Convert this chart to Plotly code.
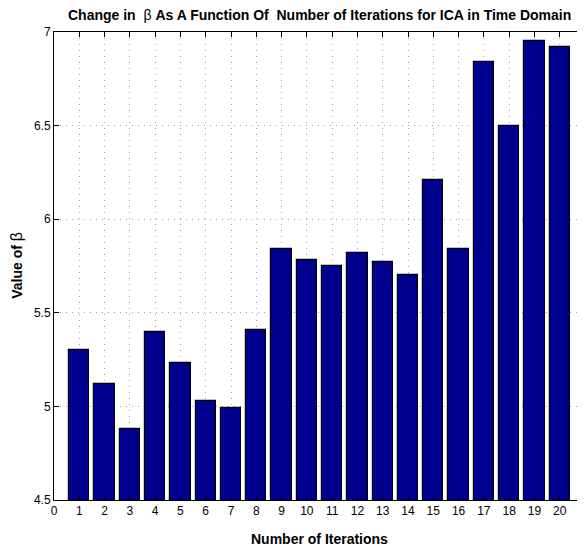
import plotly.graph_objects as go

iterations = list(range(1, 21))
beta_values = [5.30, 5.12, 4.88, 5.40, 5.23, 5.03, 4.99, 5.41, 5.84, 5.78,
               5.75, 5.82, 5.77, 5.70, 6.21, 5.84, 6.84, 6.50, 6.95, 6.92]
x_ticks = list(range(0, 21))
y_ticks = [4.5, 5, 5.5, 6, 6.5, 7]
y_tick_labels = ["4.5", "5", "5.5", "6", "6.5", "7"]

font_family = "Liberation Sans, Arial, Helvetica, sans-serif"

fig = go.Figure()
fig.add_trace(go.Bar(
    x=iterations, y=beta_values, width=0.8,
    marker=dict(color="rgb(0,0,143)", line=dict(color="black", width=1.2)),
))

# page body has an 8px margin, so the figure is sized/offset to compensate
fig.update_layout(
    width=577, height=538,
    margin=dict(l=46, r=0, t=24, b=46),
    paper_bgcolor="white", plot_bgcolor="white",
    showlegend=False,
    font=dict(family=font_family, size=12, color="black"),
    bargap=0,
)
grid_style = dict(showgrid=True, gridcolor="#a0a0a0", griddash="1px,5px", gridwidth=1)
fig.update_xaxes(
    range=[0, 21], tickmode="array", tickvals=x_ticks,
    ticktext=[str(v) for v in x_ticks],
    showline=True, linecolor="black", linewidth=1, mirror="ticks",
    ticks="inside", ticklen=5, tickcolor="black",
    zeroline=False, tickfont=dict(size=12), **grid_style,
)
fig.update_yaxes(
    range=[4.5, 7], tickmode="array", tickvals=y_ticks, ticktext=y_tick_labels,
    showline=True, linecolor="black", linewidth=1, mirror="ticks",
    ticks="inside", ticklen=5, tickcolor="black",
    zeroline=False, tickfont=dict(size=12), **grid_style,
)

fig.add_annotation(
    text="<b>Change in  </b>β<b> As A Function Of  Number of Iterations for ICA in Time Domain</b>",
    xref="paper", yref="paper", x=0.5, y=1, yshift=7,
    xanchor="center", yanchor="bottom", showarrow=False,
    font=dict(size=14, family=font_family),
)
fig.add_annotation(
    text="<b>Number of Iterations</b>",
    xref="paper", yref="paper", x=0.5, y=0, yshift=-29,
    xanchor="center", yanchor="top", showarrow=False,
    font=dict(size=14, family=font_family),
)
fig.add_annotation(
    text="<b>Value of </b><span style='font-size:16px'>β</span>",
    xref="paper", yref="paper", x=0, xshift=-37, y=(500.5 - 266) / 468.5,
    xanchor="center", yanchor="middle", textangle=-90, showarrow=False,
    font=dict(size=14, family=font_family),
)

fig.write_html("out.html")
